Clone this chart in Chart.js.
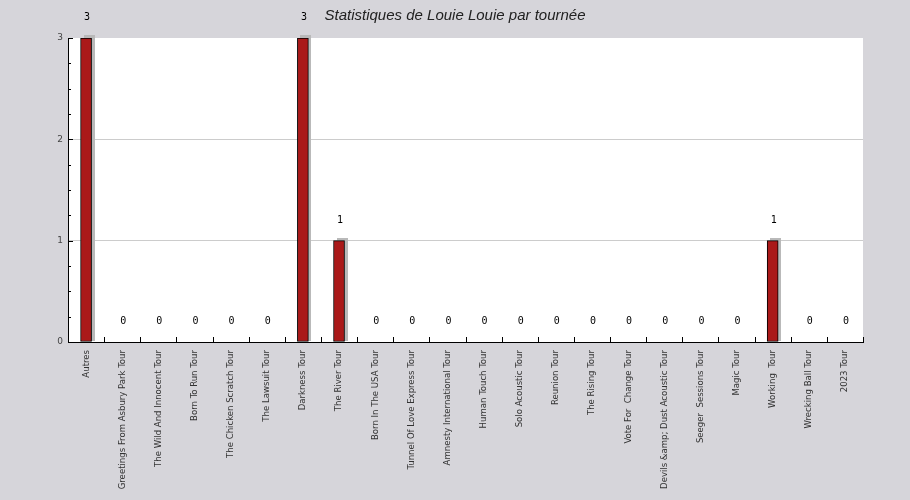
<!DOCTYPE html>
<html><head><meta charset="utf-8">
<script src="https://cdn.jsdelivr.net/npm/chart.js@4.4.0/dist/chart.umd.min.js"></script>
<style>html,body{margin:0;padding:0;background:#d6d5da;overflow:hidden}#wrap{width:910px;height:500px}</style>
</head><body><div id="wrap"><canvas id="c" width="910" height="500"></canvas></div>
<script>
const categories = [
  'Autres','Greetings From Asbury Park Tour','The Wild And Innocent Tour','Born To Run Tour',
  'The Chicken Scratch Tour','The Lawsuit Tour','Darkness Tour','The River Tour',
  'Born In The USA Tour','Tunnel Of Love Express Tour','Amnesty International Tour',
  'Human Touch Tour','Solo Acoustic Tour','Reunion Tour','The Rising Tour',
  'Vote For  Change Tour','Devils &amp; Dust Acoustic Tour','Seeger  Sessions Tour',
  'Magic Tour','Working  Tour','Wrecking Ball Tour','2023 Tour'
];
const plays = [3,0,0,0,0,0,3,1,0,0,0,0,0,0,0,0,0,0,0,1,0,0];
const yTicks = [0,1,2,3];
const titleText = 'Statistiques de Louie Louie par tournée';

const decor = {
  id: 'decor',
  beforeDraw(chart) {
    const {ctx, chartArea: a} = chart;
    ctx.save();
    ctx.fillStyle = '#d6d5da';
    ctx.fillRect(0, 0, chart.width, chart.height);
    ctx.fillStyle = '#ffffff';
    ctx.fillRect(a.left, a.top, a.right - a.left, a.bottom - a.top);
    ctx.restore();
  },
  beforeDatasetsDraw(chart) {
    const ctx = chart.ctx;
    const meta = chart.getDatasetMeta(0);
    ctx.save();
    ctx.fillStyle = '#b9b9b9';
    meta.data.forEach((bar, i) => {
      if (plays[i] <= 0) return;
      const p = bar.getProps(['x', 'y', 'base', 'width'], true);
      const l = Math.round(p.x - p.width / 2) + 3;
      const t = Math.round(p.y) - 3;
      ctx.fillRect(l, t, Math.round(p.width), Math.round(p.base) - t - 1);
    });
    ctx.restore();
  },
  afterDraw(chart) {
    const {ctx, chartArea: a} = chart;
    const xs = chart.scales.x, ys = chart.scales.y;
    ctx.save();
    ctx.strokeStyle = '#000';
    ctx.lineWidth = 1;
    ctx.beginPath();
    const yMax = yTicks[yTicks.length - 1];
    for (let k = 0; k <= yMax * 4; k++) {
      const v = k / 4;
      const y = Math.round(ys.getPixelForValue(v)) + 0.5;
      const len = (k % 4 === 0) ? 5 : 3;
      ctx.moveTo(a.left, y);
      ctx.lineTo(a.left + len, y);
    }
    for (let i = 0; i <= categories.length; i++) {
      const x = Math.round(xs.getPixelForValue(i - 0.5)) + 0.5;
      ctx.moveTo(x, a.bottom);
      ctx.lineTo(x, a.bottom - 5);
    }
    ctx.stroke();
    const meta = chart.getDatasetMeta(0);
    ctx.fillStyle = '#000';
    ctx.font = '10px "DejaVu Sans Mono"';
    ctx.textAlign = 'center';
    ctx.textBaseline = 'middle';
    meta.data.forEach((bar, i) => {
      ctx.fillText(String(plays[i]), bar.x + 1, bar.y - 20.5);
    });
    ctx.restore();
  }
};

new Chart(document.getElementById('c'), {
  type: 'bar',
  data: {
    labels: categories,
    datasets: [{
      data: plays,
      backgroundColor: '#aa1919',
      borderColor: '#000000',
      borderWidth: 1,
      borderSkipped: false,
      barThickness: 11
    }]
  },
  options: {
    responsive: false,
    devicePixelRatio: 1,
    animation: false,
    layout: { padding: { left: 47, right: 47, top: 0, bottom: 0 } },
    plugins: {
      legend: { display: false },
      tooltip: { enabled: false },
      title: {
        display: true,
        text: titleText,
        color: '#222222',
        font: { family: 'Liberation Sans', style: 'italic', size: 15, weight: 'normal' },
        padding: { top: 7, bottom: 13 }
      }
    },
    scales: {
      x: {
        afterFit(s) { s.height = 158; },
        grid: { display: false, drawTicks: false },
        border: { display: true, color: '#000', width: 1 },
        ticks: {
          autoSkip: false, minRotation: 90, maxRotation: 90, padding: 8,
          color: '#333333',
          font: { family: 'DejaVu Sans Condensed', size: 9.5 }
        }
      },
      y: {
        min: 0, max: 3,
        afterFit(s) { s.width = 21; },
        afterBuildTicks(s) { s.ticks = yTicks.map(v => ({ value: v })); },
        grid: {
          drawTicks: false,
          color: (c) => (c.tick && (c.tick.value === 0 || c.tick.value === 3)) ? 'rgba(0,0,0,0)' : '#cccccc'
        },
        border: { display: true, color: '#000', width: 1 },
        ticks: {
          padding: 5, color: '#444444',
          font: { family: 'DejaVu Sans', size: 9 }
        }
      }
    }
  },
  plugins: [decor]
});
</script>
</body></html>
